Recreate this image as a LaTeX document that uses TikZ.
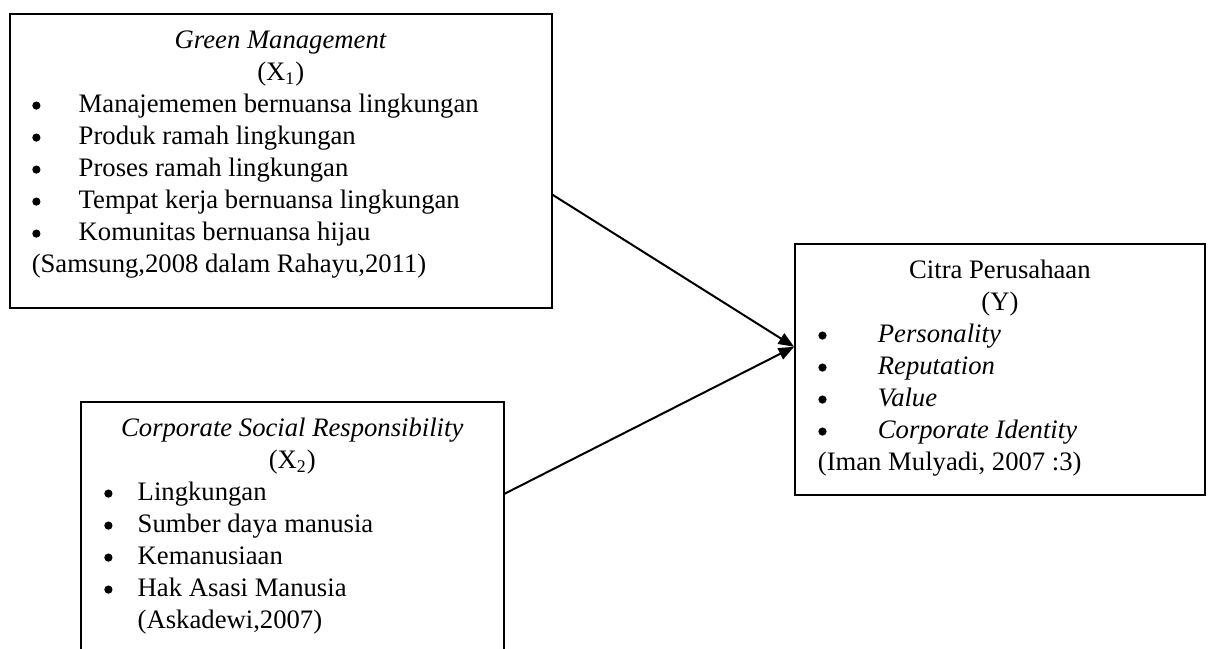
\documentclass[tikz,border=0pt]{standalone}
\usepackage{fontspec}
\setmainfont{Liberation Serif}
\usepackage{tikz}
\usetikzlibrary{arrows.meta}
\newcommand{\bdot}{\tikz[baseline=0pt]\fill (0,3pt) circle (1.85pt);}
\newcommand{\bitem}[3]{\hspace*{#1}\makebox[#2][l]{\bdot}#3\par}

\begin{document}
\begin{tikzpicture}[font=\fontsize{12}{14.4}\selectfont, >=Latex]
\tikzset{var/.style={draw, line width=0.7pt, inner sep=0pt, anchor=north west}, arr/.style={-{Triangle[length=7pt,width=5.5pt]}, line width=0.9pt}}
\useasboundingbox (0,0) rectangle (19.12,-10.26);
\clip (0,0) rectangle (19.12,-10.26);
% independent variables
\node[var] (gm) at (0.142,-0.206) {\parbox[t][4.65cm][t]{8.572cm}{\centering\rule{0pt}{15.5pt}\textit{Green Management}\\(X\textsubscript{1})\par\raggedright
\bitem{0.356cm}{0.735cm}{Manajememen bernuansa lingkungan}
\bitem{0.356cm}{0.735cm}{Produk ramah lingkungan}
\bitem{0.356cm}{0.735cm}{Proses ramah lingkungan}
\bitem{0.356cm}{0.735cm}{Tempat kerja bernuansa lingkungan}
\bitem{0.356cm}{0.735cm}{Komunitas bernuansa hijau}
\hspace*{0.348cm}(Samsung,2008 dalam Rahayu,2011)}};
\node[var] (csr) at (1.265,-6.342) {\parbox[t][4.413cm][t]{6.69cm}{\centering\rule{0pt}{15.5pt}\textit{Corporate Social Responsibility}\\(X\textsubscript{2})\par\raggedright
\bitem{0.372cm}{0.529cm}{Lingkungan}
\bitem{0.372cm}{0.529cm}{Sumber daya manusia}
\bitem{0.372cm}{0.529cm}{Kemanusiaan}
\bitem{0.372cm}{0.529cm}{Hak Asasi Manusia}
\hspace*{0.901cm}(Askadewi,2007)}};
% dependent variable
\node[var] (citra) at (12.558,-3.843) {\parbox[t][3.97cm][t]{6.485cm}{\centering\rule{0pt}{15.5pt}Citra Perusahaan\\(Y)\par\raggedright
\bitem{0.372cm}{0.941cm}{\textit{Personality}}
\bitem{0.372cm}{0.941cm}{\textit{Reputation}}
\bitem{0.372cm}{0.941cm}{\textit{Value}}
\bitem{0.372cm}{0.941cm}{\textit{Corporate Identity}}
\hspace*{0.364cm}(Iman Mulyadi, 2007 :3)}};
\draw[arr] ([yshift=-0.537cm]gm.east) -- ([yshift=0.356cm]citra.west);
\draw[arr] ([yshift=0.752cm]csr.east) -- ([yshift=0.356cm]citra.west);
\end{tikzpicture}
\end{document}
